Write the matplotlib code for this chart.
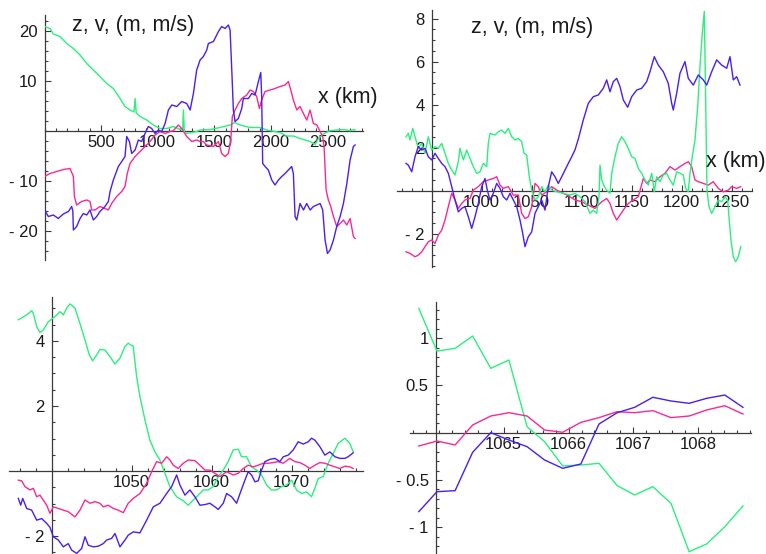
import matplotlib
matplotlib.use("Agg")
import matplotlib.pyplot as plt
from matplotlib.ticker import MultipleLocator

plt.rcParams['font.family'] = ['Liberation Sans', 'DejaVu Sans']

BLUE = '#4a1ef0'
PINK = '#fa2896'
GREEN = '#2af07c'

# ---- panel 1: whole track, x in km ----
p1_green = [(0, 20.9), (49, 20.5), (78, 19.4), (137, 18.9), (196, 17.5), (255, 16.5), (314, 15.2),
            (373, 13.5), (431, 12.2), (490, 10.9), (549, 9.5), (608, 8.5), (667, 6.5), (711, 4.9),
            (755, 4.2), (790, 3.8), (800, 6.5), (810, 3.6), (844, 2.9), (903, 2.2), (962, 1.2),
            (1020, 0.5), (1079, 0.5), (1138, 0.9), (1197, 0.3), (1220, 0.2), (1227, 4.2), (1235, -0.2),
            (1256, -0.5), (1344, -0.1), (1374, 0.2), (1462, 0.3), (1550, 0.7), (1639, 1.2), (1683, 1.7),
            (1727, 1.2), (1815, 0.7), (1904, 0.7), (1963, 0.2), (2080, -0.3), (2139, -1.0), (2198, -1.0),
            (2257, -1.5), (2346, -2.1), (2390, -2.7), (2419, -1.5), (2463, -0.6), (2522, 0.07),
            (2581, 0.2), (2640, 0.3), (2699, 0.07), (2728, 0.3), (2743, 0.2)]
p1_blue = [(0, -15.8), (34, -17.1), (78, -16.8), (122, -17.5), (166, -16.6), (211, -16.1), (240, -15.1),
           (250, -16.0), (255, -19.8), (284, -19.1), (314, -17.5), (343, -16.5), (373, -16.8), (402, -15.8),
           (431, -17.8), (461, -17.1), (490, -16.1), (534, -15.1), (564, -14.1), (579, -12.1), (608, -9.8),
           (652, -7.1), (682, -6.1), (711, -5.1), (726, -1.1), (750, -2.1), (770, -4.5), (800, -3.8),
           (829, -1.8), (858, -2.1), (888, -0.5), (917, 0.9), (947, 0.5), (976, -0.5), (1006, 0.2),
           (1035, -0.1), (1065, 1.5), (1094, 4.2), (1124, 5.2), (1168, 4.9), (1212, 5.9), (1256, 5.5),
           (1286, 4.2), (1315, 7.5), (1344, 12.2), (1374, 14.2), (1403, 14.9), (1433, 16.2), (1447, 17.5),
           (1492, 17.9), (1536, 19.9), (1565, 20.9), (1595, 20.5), (1624, 21.2), (1639, 20.2), (1654, 12.2),
           (1668, 4.2), (1683, 1.9), (1712, 2.5), (1742, 4.5), (1756, 6.5), (1801, 6.5), (1830, 7.5),
           (1860, 7.2), (1889, 9.9), (1910, 11.7), (1918, 6.9), (1927, -6.5), (1948, -7.1), (1977, -7.8),
           (2007, -9.8), (2036, -10.8), (2066, -9.8), (2095, -9.1), (2125, -8.5), (2154, -7.8), (2183, -7.1),
           (2198, -8.5), (2213, -17.1), (2228, -17.8), (2257, -14.5), (2287, -15.8), (2316, -14.5),
           (2346, -15.8), (2375, -15.1), (2405, -14.8), (2434, -14.5), (2457, -15.8), (2478, -21.8),
           (2499, -24.5), (2522, -23.8), (2552, -21.8), (2581, -19.1), (2611, -17.1), (2640, -14.5),
           (2670, -10.5), (2699, -5.8), (2728, -3.1), (2743, -2.8)]
p1_pink = [(0, -9.1), (49, -8.5), (108, -8.1), (166, -7.7), (225, -7.5), (255, -9.1), (264, -13.1),
           (284, -14.8), (328, -14.1), (373, -13.8), (402, -14.1), (417, -15.8), (446, -15.8), (490, -15.1),
           (534, -15.5), (564, -15.8), (593, -14.5), (637, -13.1), (682, -12.1), (711, -11.1), (731, -8.5),
           (755, -6.5), (800, -5.1), (844, -4.1), (888, -3.1), (932, -2.1), (976, -0.8), (1020, -0.1),
           (1065, -0.5), (1109, -0.1), (1138, 0.07), (1182, 1.2), (1212, 0.5), (1256, -1.1), (1300, -2.1),
           (1344, -1.8), (1374, -2.1), (1403, -2.1), (1433, -2.8), (1492, -3.1), (1536, -2.1), (1565, -4.5),
           (1595, -5.1), (1624, -4.5), (1645, -1.8), (1659, 2.9), (1683, 4.2), (1712, 5.5), (1742, 6.5),
           (1786, 7.2), (1815, 8.2), (1845, 7.9), (1874, 6.9), (1898, 4.5), (1918, 6.2), (1948, 7.9),
           (1992, 8.2), (2036, 8.5), (2080, 8.9), (2125, 9.2), (2154, 9.9), (2175, 8.2), (2198, 6.2),
           (2228, 4.2), (2257, 4.9), (2287, 3.5), (2316, 2.2), (2346, 4.2), (2375, 1.5), (2405, 1.2),
           (2434, -0.1), (2457, -1.1), (2469, -3.1), (2487, -11.8), (2507, -13.8), (2528, -15.1),
           (2552, -17.1), (2581, -19.1), (2611, -18.5), (2640, -17.8), (2670, -18.8), (2699, -17.5),
           (2728, -21.1), (2743, -21.5)]

# ---- panel 2: 925..1260 km ----
p2_blue = [(924.3, 1.27), (926.6, 1.19), (930, 0.88), (933.3, 1.58), (936.6, 2.05), (940, 1.89), (943.3, 1.97),
           (946.6, 1.58), (950, 1.43), (953.3, 1.74), (956.6, 1.50), (960, 1.27), (963.3, 1.12), (966.6, 0.81),
           (970, 0.19), (973.3, -0.43), (976.6, -0.98), (980, -0.82), (983.3, -0.74), (986.6, -1.21),
           (990, -1.75), (993.3, -1.21), (996.6, -0.59), (1000, 0.19), (1003.3, 0.57), (1005.6, 0.03),
           (1008.3, -0.43), (1011.6, -0.12), (1015, 0.34), (1018.3, 0.11), (1021.6, -0.28), (1025, -0.43),
           (1028.3, -0.12), (1031.6, -0.43), (1035, -0.74), (1038.3, -1.36), (1041, -1.98), (1043.3, -2.60),
           (1046.6, -2.14), (1050, -1.91), (1053.3, -1.05), (1056.6, -0.74), (1060, -0.43), (1063.3, -0.90),
           (1066.6, 0.19), (1070, 0.88), (1073.3, 0.65), (1076.6, 0.34), (1080, 0.65), (1083.3, 0.96),
           (1086.6, 1.27), (1090, 1.58), (1093.3, 1.9), (1096.6, 2.4), (1101.6, 3.29), (1106.6, 4.06),
           (1111.6, 4.37), (1116.6, 4.45), (1121.6, 4.76), (1125, 5.15), (1128.3, 4.60), (1131.6, 5.07),
           (1135, 5.22), (1138.3, 4.84), (1141.6, 4.22), (1146, 3.88), (1150, 4.37), (1155, 4.68), (1160, 4.76),
           (1165, 5.07), (1168.3, 5.53), (1172.6, 6.23), (1176.6, 5.84), (1181.6, 5.53), (1186.6, 4.99),
           (1190, 4.06), (1191.6, 3.75), (1195, 4.53), (1198.3, 5.46), (1203.3, 6.00), (1206.6, 5.22),
           (1211.6, 4.91), (1216.6, 5.38), (1221.6, 5.15), (1225, 4.91), (1230, 5.53), (1235, 6.08),
           (1240, 5.84), (1245, 5.69), (1248.3, 6.23), (1251.6, 5.15), (1255, 5.30), (1258.3, 4.91)]
p2_green = [(924.3, 2.51), (926.6, 2.67), (928.3, 2.36), (931, 2.90), (933.3, 2.51), (936.6, 1.97), (940, 2.20),
            (943.3, 1.74), (946.6, 2.51), (950, 1.89), (953.3, 2.05), (956.6, 1.97), (960, 2.20), (963.3, 1.74),
            (966.6, 1.27), (970, 0.96), (973.3, 0.73), (976.6, 1.35), (978.3, 1.97), (981.6, 1.43), (985, 1.89),
            (988.3, 1.50), (991.6, 1.12), (995, 0.81), (998.3, 0.88), (1001.6, 1.27), (1005, 1.12),
            (1006.6, 2.20), (1008.3, 2.67), (1013.3, 2.59), (1016.6, 2.74), (1020, 2.82), (1023.3, 2.67),
            (1026.6, 2.90), (1030, 2.51), (1033.3, 2.36), (1036.6, 2.43), (1040, 2.28), (1042.3, 1.74),
            (1045, 1.66), (1047.6, 0.65), (1050, 0.03), (1053.3, -0.43), (1056.6, -0.28), (1060, 0.19),
            (1063.3, -0.05), (1066.6, 0.26), (1070, 0.03), (1075, -0.05), (1081.6, -0.12), (1088.3, -0.20),
            (1093.3, -0.12), (1098.3, -0.28), (1103.3, -0.51), (1108.3, -1.05), (1111.6, -0.90), (1115, -1.05),
            (1117.3, -0.28), (1118.3, 1.19), (1120, 0.50), (1122.6, 0.19), (1125, 0.03), (1128.3, -0.12),
            (1130, 0.81), (1133.3, 1.58), (1136.6, 2.20), (1140, 2.51), (1143.3, 2.28), (1146.6, 1.97),
            (1150, 1.58), (1153.3, 1.50), (1156.6, 1.04), (1160, 0.81), (1163.3, 0.50), (1166.6, 0.26),
            (1170, 0.81), (1172.6, -0.05), (1175, 0.65), (1178.3, 0.42), (1181.6, 0.73), (1185, 0.81),
            (1188.3, 0.50), (1191.6, 0.26), (1195, 0.88), (1198.3, 0.81), (1201.6, 0.73), (1204, 0.11),
            (1206.6, -0.05), (1208.3, 0.81), (1210.6, 1.58), (1213.3, 2.36), (1216, 3.91), (1218.3, 5.77),
            (1220.6, 7.32), (1222.6, 8.33), (1224, 4.22), (1225.3, 0.03), (1227.3, -0.74), (1230, -1.05),
            (1233.3, -0.74), (1236.6, -0.43), (1240, -0.51), (1243.3, -0.28), (1246, -0.43), (1247.3, -1.21),
            (1249.3, -2.29), (1251.6, -3.07), (1254, -3.30), (1256.6, -3.07), (1259, -2.60)]
p2_pink = [(924.3, -2.84), (928.3, -2.91), (933.3, -3.07), (936.6, -2.99), (940, -2.84), (943.3, -2.60),
           (946.6, -2.37), (950, -2.29), (953.3, -2.45), (956.6, -2.06), (960, -1.83), (963.3, -1.36),
           (966.6, -0.74), (970, -0.12), (973.3, -0.43), (976.6, -0.82), (980, -0.59), (983.3, -0.43),
           (988.3, -0.36), (991.6, 0.03), (996.6, 0.19), (1001.6, 0.42), (1006.6, 0.50), (1011.6, 0.57),
           (1015, 0.65), (1018.3, 0.26), (1021.6, 0.11), (1026.6, 0.19), (1031.6, -0.20), (1036.6, -0.20),
           (1040, -1.05), (1043.3, -1.29), (1046.6, -1.21), (1050, -0.74), (1053.3, 0.34), (1056.6, 0.19),
           (1060, -0.20), (1065, -0.05), (1070, 0.19), (1075, 0.03), (1081.6, -0.12), (1088.3, -0.28),
           (1093.3, -0.43), (1100, -0.51), (1106.6, -0.67), (1113.3, -0.82), (1120, -0.51), (1125, -0.36),
           (1128.3, -0.59), (1131.6, -1.05), (1135, -1.36), (1138.3, -1.13), (1141.6, -0.90), (1146.6, -0.59),
           (1151.6, -0.43), (1156.6, -0.28), (1161.6, 0.57), (1165, 0.34), (1168.3, 0.50), (1173.3, 0.42),
           (1178.3, 0.65), (1183.3, 0.81), (1188.3, 1.12), (1193.3, 0.96), (1198.3, 1.12), (1203.3, 1.27),
           (1206.6, 1.35), (1210, 1.12), (1213.3, 0.50), (1216.6, 0.42), (1221.6, 0.34), (1226.6, 0.26),
           (1231.6, 0.42), (1236.6, 0.11), (1241.6, -0.05), (1246.6, 0.03), (1250, 0.19), (1255, 0.11),
           (1259, 0.19)]

# ---- panel 3: 1036..1078 km ----
p3_green = [(1035.83, 4.65), (1036.88, 4.80), (1037.5, 4.93), (1037.71, 4.85), (1038.13, 4.44), (1038.54, 4.26),
            (1038.96, 4.34), (1039.58, 4.59), (1040.42, 4.75), (1041.04, 4.90), (1041.46, 4.80), (1041.88, 5.01),
            (1042.29, 5.14), (1042.92, 5.01), (1043.54, 4.54), (1044.17, 4.03), (1044.71, 3.57), (1045.13, 3.39),
            (1045.63, 3.57), (1046.04, 3.74), (1046.67, 3.72), (1047.29, 3.52), (1047.92, 3.29), (1048.54, 3.47),
            (1049.17, 3.83), (1049.58, 3.93), (1050.21, 3.83), (1050.63, 2.90), (1051.04, 2.29), (1051.67, 1.57),
            (1052.29, 0.95), (1052.92, 0.59), (1053.54, 0.34), (1054.17, -0.07), (1054.79, -0.48),
            (1055.63, -0.79), (1056.46, -0.91), (1057.08, -1.05), (1057.71, -0.89), (1058.33, -0.74),
            (1058.96, -0.58), (1059.58, -0.58), (1060.21, -0.48), (1060.83, -0.17), (1061.46, 0.03),
            (1062.08, 0.29), (1062.71, 0.65), (1063.33, 0.67), (1063.75, 0.44), (1064.38, 0.44), (1065.0, 0.13),
            (1065.63, 0.03), (1066.25, -0.12), (1066.88, -0.43), (1067.5, -0.58), (1068.13, -0.58),
            (1068.75, -0.48), (1069.38, -0.43), (1070.0, -0.28), (1070.63, -0.58), (1071.25, -0.69),
            (1071.88, -0.64), (1072.5, -0.79), (1072.92, -0.53), (1073.33, -0.23), (1073.96, -0.17),
            (1074.58, 0.24), (1075.21, 0.54), (1075.83, 0.85), (1076.67, 1.01), (1077.29, 0.85), (1077.71, 0.59)]
p3_blue = [(1035.83, -0.84), (1036.13, -1.05), (1036.38, -0.84), (1036.88, -1.15), (1037.5, -1.20), (1038.13, -1.51),
           (1038.75, -1.46), (1039.38, -1.61), (1039.79, -1.73), (1040.21, -2.02), (1040.83, -2.12),
           (1041.46, -2.33), (1042.08, -2.23), (1042.5, -2.43), (1043.13, -2.53), (1043.75, -2.38),
           (1044.17, -2.02), (1044.58, -2.28), (1045.21, -2.33), (1045.83, -2.31), (1046.46, -2.23),
           (1046.88, -2.12), (1047.5, -2.07), (1047.92, -1.92), (1048.54, -2.33), (1049.17, -2.12),
           (1049.58, -1.97), (1050.21, -1.87), (1051.04, -1.90), (1051.88, -1.51), (1052.71, -1.10),
           (1053.54, -0.99), (1054.38, -0.69), (1055.0, -0.48), (1055.63, -0.12), (1056.04, -0.43),
           (1056.67, -0.74), (1057.29, -0.58), (1057.92, -0.79), (1058.54, -1.05), (1059.17, -1.03),
           (1059.79, -0.99), (1060.42, -1.10), (1060.83, -1.18), (1061.46, -0.99), (1061.88, -0.69),
           (1062.5, -0.79), (1063.13, -0.99), (1063.63, -0.64), (1064.17, -0.28), (1064.58, -0.02),
           (1065.0, -0.12), (1065.42, -0.33), (1065.83, -0.30), (1066.25, 0.03), (1066.67, 0.29),
           (1067.29, 0.36), (1067.92, 0.39), (1068.54, 0.29), (1068.96, 0.44), (1069.58, 0.49), (1070.21, 0.65),
           (1070.83, 0.90), (1071.46, 0.83), (1072.08, 0.90), (1072.5, 1.01), (1072.92, 0.95), (1073.54, 0.75),
           (1074.17, 0.49), (1074.79, 0.59), (1075.42, 0.44), (1076.04, 0.39), (1076.67, 0.39), (1077.08, 0.44),
           (1077.71, 0.56)]
p3_pink = [(1035.83, -0.28), (1036.25, -0.30), (1036.67, -0.48), (1037.29, -0.58), (1037.71, -0.53), (1038.13, -0.79),
           (1038.54, -0.74), (1039.38, -1.05), (1039.79, -1.30), (1040.21, -1.10), (1040.83, -1.15),
           (1041.46, -1.20), (1042.08, -1.25), (1042.92, -1.41), (1043.54, -1.20), (1044.17, -0.89),
           (1044.79, -0.99), (1045.42, -0.94), (1046.04, -0.99), (1046.46, -1.10), (1047.08, -1.05),
           (1047.71, -1.15), (1048.33, -1.20), (1048.96, -1.28), (1049.58, -0.99), (1050.21, -0.84),
           (1051.04, -0.69), (1051.88, -0.38), (1052.5, -0.02), (1053.13, 0.29), (1053.75, 0.24), (1054.38, 0.44),
           (1054.79, 0.34), (1055.21, 0.18), (1055.83, 0.08), (1056.46, 0.24), (1057.08, 0.34), (1057.92, 0.32),
           (1058.54, 0.18), (1059.17, 0.03), (1059.79, 0.03), (1060.42, -0.07), (1061.04, -0.17),
           (1061.88, -0.02), (1062.71, -0.12), (1063.33, -0.07), (1063.96, 0.08), (1064.58, 0.18),
           (1065.21, 0.13), (1065.83, 0.18), (1066.46, 0.24), (1067.08, 0.24), (1067.71, 0.26), (1068.33, 0.29),
           (1068.96, 0.24), (1069.79, 0.39), (1070.42, 0.29), (1071.04, 0.26), (1071.67, 0.18), (1072.29, 0.08),
           (1072.92, 0.18), (1073.54, 0.26), (1074.17, 0.24), (1074.79, 0.18), (1075.42, 0.13), (1076.04, 0.08),
           (1076.67, 0.15), (1077.29, 0.13), (1077.71, 0.08)]

# ---- panel 4: sampled points 1063.7..1068.7 km ----
p4_x = [1063.69, 1063.97, 1064.25, 1064.52, 1064.80, 1065.08, 1065.36, 1065.63, 1065.91, 1066.19,
        1066.47, 1066.75, 1067.02, 1067.30, 1067.58, 1067.86, 1068.13, 1068.41, 1068.69]
p4_green = [1.314, 0.863, 0.891, 1.022, 0.680, 0.768, 0.063, -0.095, -0.352, -0.342,
            -0.324, -0.560, -0.659, -0.571, -0.747, -1.258, -1.177, -0.994, -0.775]
p4_blue = [-0.835, -0.624, -0.613, -0.208, 0.0, -0.078, -0.148, -0.289, -0.377, -0.331,
           0.092, 0.211, 0.268, 0.374, 0.335, 0.310, 0.363, 0.398, 0.268]
p4_pink = [-0.141, -0.088, -0.130, 0.081, 0.176, 0.211, 0.176, 0.028, 0.004, 0.109,
           0.159, 0.222, 0.211, 0.233, 0.159, 0.176, 0.240, 0.285, 0.197]


def lab(v):
    return f"- {abs(v):g}" if v < 0 else f"{v:g}"


def mma_axes(ax, xlim, ylim, x0, xt, xminor, yt, yminor):
    ax.set_xlim(xlim)
    ax.set_ylim(ylim)
    ax.patch.set_alpha(0)
    for s in ('top', 'right'):
        ax.spines[s].set_visible(False)
    ax.spines['left'].set_position(('data', x0))
    ax.spines['bottom'].set_position(('data', 0))
    for s in ('left', 'bottom'):
        ax.spines[s].set_color('#3a3a3a')
        ax.spines[s].set_linewidth(0.9)
    ax.set_xticks(xt, [lab(v) for v in xt])
    ax.set_yticks(yt, [lab(v) for v in yt])
    ax.xaxis.set_minor_locator(MultipleLocator(xminor))
    ax.yaxis.set_minor_locator(MultipleLocator(yminor))
    ax.tick_params(which='both', direction='in', color='#3a3a3a', width=0.8,
                   labelsize=12, labelcolor='#1a1a1a')
    ax.tick_params(which='major', length=4)
    ax.tick_params(which='minor', length=2.2)
    ax.tick_params(axis='x', pad=3)
    ax.tick_params(axis='y', pad=5)


def draw(ax, pts, color):
    xs = [p[0] for p in pts]
    ys = [p[1] for p in pts]
    ax.plot(xs, ys, color=color, lw=1.0, zorder=3)


fig = plt.figure(figsize=(7.66, 5.54), dpi=100)

ax1 = fig.add_axes([0.0581, 0.5307, 0.4158, 0.4422])
draw(ax1, p1_green, GREEN)
draw(ax1, p1_pink, PINK)
draw(ax1, p1_blue, BLUE)
mma_axes(ax1, (0, 2813), (-25.8, 23.2), 0, [500, 1000, 1500, 2000, 2500], 100,
         [-20, -10, 10, 20], 2)

ax2 = fig.add_axes([0.5179, 0.5186, 0.4634, 0.4634])
draw(ax2, p2_pink, PINK)
draw(ax2, p2_green, GREEN)
draw(ax2, p2_blue, BLUE)
mma_axes(ax2, (915, 1270), (-3.53, 8.4), 950, [1000, 1050, 1100, 1150, 1200, 1250], 10,
         [-2, 2, 4, 6, 8], 0.5)

ax3 = fig.add_axes([0.0121, 0.0, 0.4614, 0.4644])
draw(ax3, p3_green, GREEN)
draw(ax3, p3_pink, PINK)
draw(ax3, p3_blue, BLUE)
mma_axes(ax3, (1034.7, 1078.9), (-2.55, 5.36), 1040, [1050, 1060, 1070], 2,
         [-2, 2, 4], 0.5)

ax4 = fig.add_axes([0.5349, 0.0013, 0.4460, 0.4542])
ax4.plot(p4_x, p4_green, color=GREEN, lw=1.0, zorder=3)
ax4.plot(p4_x, p4_pink, color=PINK, lw=1.0, zorder=3)
ax4.plot(p4_x, p4_blue, color=BLUE, lw=1.0, zorder=3)
mma_axes(ax4, (1063.55, 1068.82), (-1.275, 1.385), 1063.95, [1065, 1066, 1067, 1068], 0.2,
         [-1, -0.5, 0.5, 1], 0.1)

# axis captions
fig.text(72 / 766, 1 - 25 / 554, "z, v, (m, m/s)", fontsize=15.5, va='center', color='#1a1a1a')
fig.text(318 / 766, 1 - 98 / 554, "x (km)", fontsize=15.5, va='center', color='#1a1a1a')
fig.text(471 / 766, 1 - 28 / 554, "z, v, (m, m/s)", fontsize=15.5, va='center', color='#1a1a1a')
fig.text(706 / 766, 1 - 162 / 554, "x (km)", fontsize=15.5, va='center', color='#1a1a1a')

fig.savefig("out.png", dpi=100)
